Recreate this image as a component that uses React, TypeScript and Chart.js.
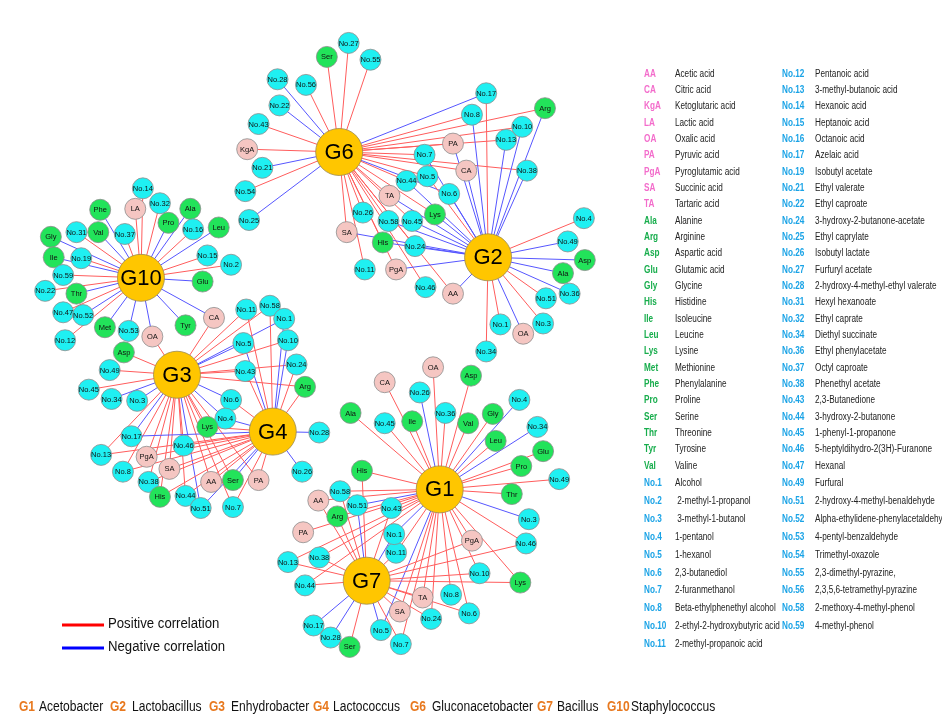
import React, { useEffect, useRef } from 'react';
import { Chart, registerables } from 'chart.js';

Chart.register(...registerables);

// Hubs (genera) and their layout coordinates
const hubNames = ['G1', 'G2', 'G3', 'G4', 'G6', 'G7', 'G10'];
const hubX = [438, 489, 161, 262, 332, 361, 123];
const hubY = [499, 250, 376, 437, 137, 597, 272];

// Node: [label, layoutX, layoutY, links]  ("+" positive, "-" negative correlation)
type NodeRow = [string, number, number, string];

const g6Nodes: NodeRow[] = [
  ['No.27', 342, 20, 'G6+'], ['Ser', 319, 35, 'G6+'], ['No.55', 365, 38, 'G6+'],
  ['No.28', 267, 59, 'G6-'], ['No.56', 297, 65, 'G6+'], ['No.22', 269, 87, 'G6-'],
  ['No.43', 247, 107, 'G6+'], ['KgA', 235, 134, 'G6+'], ['No.21', 251, 154, 'G6-'],
  ['No.54', 233, 179, 'G6+'], ['No.25', 237, 210, 'G6-'],
];

const g6g2Nodes: NodeRow[] = [
  ['No.17', 487, 74, 'G6- G2+'], ['Arg', 549, 90, 'G6+ G2-'], ['No.8', 472, 97, 'G6+ G2-'],
  ['No.10', 525, 110, 'G6+ G2-'], ['PA', 452, 128, 'G6+ G2-'], ['No.13', 508, 124, 'G6+ G2-'],
  ['No.7', 422, 140, 'G6+ G2-'], ['CA', 466, 157, 'G6+ G2-'], ['No.38', 530, 157, 'G6+ G2-'],
  ['No.5', 425, 163, 'G6+ G2+'], ['No.44', 403, 168, 'G6+ G2-'], ['No.6', 448, 182, 'G6- G2-'],
  ['TA', 385, 184, 'G6+ G2-'], ['Lys', 433, 204, 'G6+ G2-'], ['No.26', 357, 202, 'G6+'],
  ['No.58', 384, 211, 'G6+ G2-'], ['No.45', 409, 211, 'G6+ G2-'], ['SA', 340, 223, 'G6+ G2-'],
  ['His', 378, 234, 'G6+ G2-'], ['No.24', 412, 238, 'G6+ G2-'], ['No.11', 359, 263, 'G6+'],
  ['PgA', 392, 263, 'G6+ G2-'], ['No.46', 423, 282, 'G6+'], ['AA', 452, 289, 'G6+ G2-'],
];

const g2Nodes: NodeRow[] = [
  ['No.4', 590, 208, 'G2+'], ['No.49', 573, 233, 'G2-'], ['Asp', 591, 253, 'G2-'],
  ['Ala', 568, 267, 'G2-'], ['No.36', 575, 289, 'G2-'], ['No.51', 550, 294, 'G2+'],
  ['No.3', 547, 321, 'G2+'], ['No.1', 502, 322, 'G2+'], ['OA', 526, 332, 'G2-'],
  ['No.34', 487, 351, 'G2+'],
];

const g10Nodes: NodeRow[] = [
  ['No.14', 125, 176, 'G10+'], ['No.32', 143, 192, 'G10+'], ['LA', 117, 198, 'G10+'],
  ['Phe', 80, 199, 'G10-'], ['Ala', 175, 198, 'G10-'], ['Pro', 152, 213, 'G10-'],
  ['No.16', 178, 220, 'G10+'], ['Leu', 205, 218, 'G10-'], ['Gly', 28, 228, 'G10-'],
  ['No.31', 55, 223, 'G10+'], ['Val', 78, 223, 'G10-'], ['No.37', 106, 225, 'G10+'],
  ['Ile', 31, 250, 'G10-'], ['No.19', 60, 251, 'G10+'], ['No.15', 193, 248, 'G10+'],
  ['No.2', 218, 258, 'G10+'], ['No.59', 41, 269, 'G10+'], ['Glu', 188, 276, 'G10-'],
  ['No.22', 22, 286, 'G10+'], ['Thr', 55, 289, 'G10-'], ['No.47', 41, 309, 'G10+'],
  ['No.52', 62, 312, 'G10-'], ['CA', 200, 315, 'G10- G3+'], ['Met', 85, 325, 'G10-'],
  ['Tyr', 170, 323, 'G10-'], ['No.53', 110, 329, 'G10-'], ['OA', 135, 335, 'G10- G3+'],
  ['No.12', 43, 339, 'G10+'],
];

const g3g4Nodes: NodeRow[] = [
  ['No.11', 234, 306, 'G3+ G4+'], ['No.58', 259, 302, 'G3+ G4+'], ['No.1', 274, 316, 'G3- G4-'],
  ['No.10', 278, 339, 'G3+ G4-'], ['No.5', 231, 342, 'G3- G4-'],
  ['Asp', 105, 352, 'G3+'], ['No.24', 287, 365, 'G3+ G4+'],
  ['No.43', 233, 372, 'G3+ G4+'], ['No.49', 90, 371, 'G3+'], ['Arg', 296, 389, 'G3+ G4+'],
  ['No.45', 68, 392, 'G3+'], ['No.34', 92, 402, 'G3-'], ['No.3', 119, 404, 'G3-'],
  ['No.6', 218, 403, 'G3- G4+'], ['No.4', 212, 423, 'G3- G4-'], ['Lys', 193, 432, 'G3+ G4+'],
  ['No.28', 311, 438, 'G4-'], ['No.17', 113, 442, 'G3- G4-'], ['No.46', 168, 452, 'G3+ G4+'],
  ['No.13', 81, 462, 'G3+ G4+'], ['PgA', 129, 464, 'G3+ G4+'], ['SA', 153, 477, 'G3+ G4+'],
  ['No.8', 104, 480, 'G3+ G4+'], ['No.26', 293, 480, 'G4-'], ['AA', 197, 491, 'G3+ G4+'],
  ['Ser', 220, 489, 'G3+ G4-'], ['PA', 247, 489, 'G3+ G4+'], ['No.38', 131, 491, 'G3+ G4+'],
  ['His', 143, 507, 'G3+ G4+'], ['No.44', 170, 506, 'G3+ G4+'], ['No.51', 186, 519, 'G3- G4-'],
  ['No.7', 220, 518, 'G3+ G4+'],
];

const g1g7Nodes: NodeRow[] = [
  ['OA', 431, 368, 'G1+'], ['Asp', 471, 377, 'G1+'], ['CA', 380, 384, 'G1+'],
  ['No.26', 417, 395, 'G1-'], ['No.4', 522, 403, 'G1-'], ['Ala', 344, 417, 'G1+'],
  ['No.45', 380, 428, 'G1+'], ['Ile', 409, 426, 'G1+'], ['No.36', 444, 417, 'G1+'],
  ['Val', 468, 428, 'G1+'], ['Gly', 494, 418, 'G1+'], ['No.34', 541, 432, 'G1-'],
  ['Leu', 497, 447, 'G1+'], ['Glu', 547, 458, 'G1+'], ['Pro', 524, 474, 'G1+'],
  ['No.49', 564, 488, 'G1+'], ['Thr', 514, 504, 'G1+'], ['No.3', 532, 531, 'G1-'],
  ['No.46', 529, 557, 'G1+ G7+'], ['PgA', 472, 554, 'G1+ G7+'], ['Lys', 523, 599, 'G1+ G7+'],
  ['No.10', 480, 589, 'G1+ G7+'], ['No.6', 469, 632, 'G1+ G7+'], ['No.8', 450, 612, 'G1+'],
  ['TA', 420, 615, 'G1+ G7+'], ['No.24', 429, 638, 'G1+ G7+'], ['SA', 396, 630, 'G1+ G7+'],
  ['No.7', 397, 665, 'G1+ G7+'], ['No.5', 376, 650, 'G1- G7-'], ['No.11', 392, 567, 'G1+ G7+'],
  ['No.1', 390, 547, 'G1- G7-'], ['No.43', 387, 519, 'G1+ G7+'], ['No.51', 351, 516, 'G1- G7-'],
  ['His', 356, 479, 'G1+ G7+'], ['No.58', 333, 501, 'G1+ G7+'], ['AA', 310, 511, 'G1+ G7+'],
  ['Arg', 330, 528, 'G1+ G7+'], ['PA', 294, 545, 'G1+'], ['No.38', 311, 572, 'G1+ G7+'],
  ['No.13', 278, 577, 'G1+ G7+'], ['No.44', 296, 602, 'G1+ G7+'], ['No.17', 305, 645, 'G7-'],
  ['No.28', 323, 658, 'G7-'], ['Ser', 343, 668, 'G7+'],
];

// Compound classes
const acidCodes = ['AA', 'CA', 'KgA', 'LA', 'OA', 'PA', 'PgA', 'SA', 'TA'];
const aminoCodes = ['Ala', 'Arg', 'Asp', 'Glu', 'Gly', 'His', 'Ile', 'Leu', 'Lys', 'Met', 'Phe', 'Pro', 'Ser', 'Thr', 'Tyr', 'Val'];

// Key table
const keyAbbr1 = ['AA', 'CA', 'KgA', 'LA', 'OA', 'PA', 'PgA', 'SA', 'TA', 'Ala', 'Arg', 'Asp', 'Glu', 'Gly', 'His', 'Ile', 'Leu', 'Lys', 'Met', 'Phe', 'Pro', 'Ser', 'Thr', 'Tyr', 'Val',
  'No.1', 'No.2', 'No.3', 'No.4', 'No.5', 'No.6', 'No.7', 'No.8', 'No.10', 'No.11'];
const keyDesc1 = ['Acetic acid', 'Citric acid', 'Ketoglutaric acid', 'Lactic acid', 'Oxalic acid', 'Pyruvic acid', 'Pyroglutamic acid', 'Succinic acid', 'Tartaric acid',
  'Alanine', 'Arginine', 'Aspartic acid', 'Glutamic acid', 'Glycine', 'Histidine', 'Isoleucine', 'Leucine', 'Lysine', 'Methionine', 'Phenylalanine', 'Proline', 'Serine', 'Threonine', 'Tyrosine', 'Valine',
  'Alcohol', ' 2-methyl-1-propanol', ' 3-methyl-1-butanol', '1-pentanol', '1-hexanol', '2,3-butanediol', '2-furanmethanol', 'Beta-ethylphenethyl alcohol', '2-ethyl-2-hydroxybutyric acid', '2-methyl-propanoic acid'];
const keyAbbr2 = ['No.12', 'No.13', 'No.14', 'No.15', 'No.16', 'No.17', 'No.19', 'No.21', 'No.22', 'No.24', 'No.25', 'No.26', 'No.27', 'No.28', 'No.31', 'No.32', 'No.34', 'No.36', 'No.37', 'No.38', 'No.43', 'No.44', 'No.45', 'No.46', 'No.47',
  'No.49', 'No.51', 'No.52', 'No.53', 'No.54', 'No.55', 'No.56', 'No.58', 'No.59'];
const keyDesc2 = ['Pentanoic acid', '3-methyl-butanoic acid', 'Hexanoic acid', 'Heptanoic acid', 'Octanoic acid', 'Azelaic acid', 'Isobutyl acetate', 'Ethyl valerate', 'Ethyl caproate',
  '3-hydroxy-2-butanone-acetate', 'Ethyl caprylate', 'Isobutyl lactate', 'Furfuryl acetate', '2-hydroxy-4-methyl-ethyl valerate', 'Hexyl hexanoate', 'Ethyl caprate', 'Diethyl succinate',
  'Ethyl phenylacetate', 'Octyl caproate', 'Phenethyl acetate', '2,3-Butanedione', '3-hydroxy-2-butanone', '1-phenyl-1-propanone', '5-heptyldihydro-2(3H)-Furanone', 'Hexanal',
  'Furfural', '2-hydroxy-4-methyl-benaldehyde', 'Alpha-ethylidene-phenylacetaldehyde', '4-pentyl-benzaldehyde', 'Trimethyl-oxazole', '2,3-dimethyl-pyrazine,', '2,3,5,6-tetramethyl-pyrazine',
  '2-methoxy-4-methyl-phenol', '4-methyl-phenol'];

const genusCodes = ['G1', 'G2', 'G3', 'G4', 'G6', 'G7', 'G10'];
const genusNames = ['Acetobacter', 'Lactobacillus', 'Enhydrobacter', 'Lactococcus', 'Gluconacetobacter', 'Bacillus', 'Staphylococcus'];
const correlationLabels = ['Positive correlation', 'Negative correlation'];

const FONT = '"Liberation Sans", Arial, sans-serif';
const COL_CYAN = '#1ff0f2';
const COL_GREEN = '#22e35a';
const COL_PINK = '#f5c6c2';
const COL_HUB = '#ffc600';
const COL_POS = '#ff5c5c';
const COL_NEG = '#5656ff';

function nodeColor(label: string) {
  if (acidCodes.includes(label)) return COL_PINK;
  if (aminoCodes.includes(label)) return COL_GREEN;
  return COL_CYAN;
}
function abbrColor(label: string) {
  if (acidCodes.includes(label)) return '#f36ccb';
  if (aminoCodes.includes(label)) return '#17ad4c';
  return '#1aa3e6';
}

function narrowText(ctx: CanvasRenderingContext2D, text: string, x: number, y: number, sx: number) {
  ctx.save();
  ctx.translate(x, y);
  ctx.scale(sx, 1);
  ctx.fillText(text, 0, 0);
  ctx.restore();
}

export default function App() {
  const ref = useRef<HTMLCanvasElement | null>(null);

  useEffect(() => {
    if (!ref.current) return;
    const allNodes: NodeRow[] = [...g6Nodes, ...g6g2Nodes, ...g2Nodes, ...g10Nodes, ...g3g4Nodes, ...g1g7Nodes];

    const edgeSets: any[] = [];
    allNodes.forEach(([label, x, y, links]) => {
      links.split(' ').forEach((lk) => {
        const sign = lk.slice(-1);
        const h = hubNames.indexOf(lk.slice(0, -1));
        if (h < 0) return;
        edgeSets.push({
          type: 'scatter',
          data: [{ x: hubX[h], y: hubY[h] }, { x, y }],
          showLine: true,
          borderColor: sign === '+' ? COL_POS : COL_NEG,
          borderWidth: 1,
          pointRadius: 0,
          pointHoverRadius: 0,
          order: 3,
          clip: false,
        });
      });
    });

    const nodeSet = {
      data: allNodes.map(([, x, y]) => ({ x, y })),
      pointRadius: 10.5,
      pointHoverRadius: 10.5,
      pointBackgroundColor: allNodes.map(([l]) => nodeColor(l)),
      pointBorderColor: '#8d8d8d',
      pointBorderWidth: 0.8,
      showLine: false,
      order: 2,
      clip: false,
    };
    const hubSet = {
      data: hubNames.map((_, i) => ({ x: hubX[i], y: hubY[i] })),
      pointRadius: 23.5,
      pointHoverRadius: 23.5,
      pointBackgroundColor: COL_HUB,
      pointBorderColor: '#9a8a50',
      pointBorderWidth: 0.8,
      showLine: false,
      order: 1,
      clip: false,
    };

    const labelPlugin = {
      id: 'netLabels',
      afterDatasetsDraw(chart: any) {
        const ctx = chart.ctx as CanvasRenderingContext2D;
        const nodeIdx = chart.data.datasets.length - 2;
        const hubIdx = chart.data.datasets.length - 1;
        ctx.save();
        ctx.textAlign = 'center';
        ctx.textBaseline = 'middle';
        ctx.fillStyle = '#111';
        ctx.font = `7.5px ${FONT}`;
        chart.getDatasetMeta(nodeIdx).data.forEach((pt: any, i: number) => {
          ctx.fillText(allNodes[i][0], pt.x, pt.y + 0.5);
        });
        ctx.font = `22px ${FONT}`;
        ctx.fillStyle = '#000';
        chart.getDatasetMeta(hubIdx).data.forEach((pt: any, i: number) => {
          ctx.fillText(hubNames[i], pt.x, pt.y + 1);
        });

        // key table
        ctx.textAlign = 'left';
        const rowY = (i: number) => (i < 25 ? 74 + i * 16.33 : 483.5 + (i - 25) * 17.85);
        const drawCol = (abbr: string[], desc: string[], ax: number, dx: number) => {
          abbr.forEach((a, i) => {
            ctx.font = `bold 10px ${FONT}`;
            ctx.fillStyle = abbrColor(a);
            narrowText(ctx, a, ax, rowY(i), 0.82);
            ctx.font = `10px ${FONT}`;
            ctx.fillStyle = '#222';
            narrowText(ctx, desc[i], dx, rowY(i), 0.82);
          });
        };
        drawCol(keyAbbr1, keyDesc1, 644, 675);
        drawCol(keyAbbr2, keyDesc2, 782, 815);

        // correlation legend
        const legY = [625, 648];
        const legC = ['#ff0000', '#0000ff'];
        legY.forEach((y, i) => {
          ctx.strokeStyle = legC[i];
          ctx.lineWidth = 3;
          ctx.beginPath();
          ctx.moveTo(62, y);
          ctx.lineTo(104, y);
          ctx.stroke();
          ctx.fillStyle = '#111';
          ctx.font = `15.5px ${FONT}`;
          narrowText(ctx, correlationLabels[i], 108, y - 1.5, 0.85);
        });

        // genus legend
        const codeX = [19, 110, 209, 313, 410, 537, 607];
        const nameX = [39, 132, 231, 333, 432, 557, 631];
        genusCodes.forEach((c, i) => {
          ctx.font = `bold 14px ${FONT}`;
          ctx.fillStyle = '#e8791f';
          narrowText(ctx, c, codeX[i], 707, 0.86);
          ctx.font = `14px ${FONT}`;
          ctx.fillStyle = '#111';
          narrowText(ctx, genusNames[i], nameX[i], 707, 0.86);
        });
        ctx.restore();
      },
    };

    const chart = new Chart(ref.current, {
      type: 'scatter',
      data: { datasets: [...edgeSets, nodeSet, hubSet] as any },
      options: {
        animation: false,
        responsive: false,
        events: [],
        layout: { padding: 0 },
        scales: {
          x: { type: 'linear', min: 0, max: 942, display: false },
          y: { type: 'linear', min: 0, max: 715, reverse: true, display: false },
        },
        plugins: { legend: { display: false }, tooltip: { enabled: false } },
      },
      plugins: [labelPlugin],
    });
    return () => chart.destroy();
  }, []);

  return (
    <div style={{ position: 'fixed', left: 0, top: 0, width: 942, height: 715, background: '#fff' }}>
      <canvas ref={ref} width={942} height={715} style={{ width: 942, height: 715 }} />
    </div>
  );
}
